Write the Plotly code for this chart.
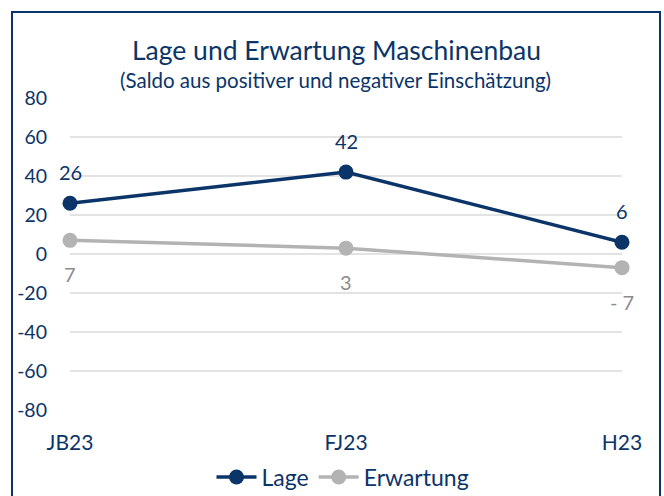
import plotly.graph_objects as go

categories = ["JB23", "FJ23", "H23"]
lage = [26, 42, 6]
erwartung = [7, 3, -7]
lage_labels = ["26", "42", "6"]
erwartung_labels = ["7", "3", "- 7"]
y_ticks = [80, 60, 40, 20, 0, -20, -40, -60, -80]
y_tick_text = ["80", "60", "40", "20", "0", "-20", "-40", "-60", "-80"]

DARK = "#0B3468"
GRAY = "#B3B3B3"
LABEL_GRAY = "#8C8C8C"
FONT = "Lato"

fig = go.Figure()
fig.add_trace(go.Scatter(
    x=categories, y=lage, name="Lage", mode="lines+markers",
    line=dict(color=DARK, width=3.5), marker=dict(color=DARK, size=15),
    cliponaxis=False))
fig.add_trace(go.Scatter(
    x=categories, y=erwartung, name="Erwartung", mode="lines+markers",
    line=dict(color=GRAY, width=3.5), marker=dict(color=GRAY, size=15),
    cliponaxis=False))

L, R, T, B = 70, 42, 98, 86
W, H = 664, 496
pw, ph = W - L - R, H - T - B

def px(x):
    return (x - L) / pw

def py(y):
    return (H - B - y) / ph

annotations = [
    dict(text="Lage und Erwartung Maschinenbau", xref="paper", yref="paper",
         x=px(336), y=py(50), xanchor="center", yanchor="middle", showarrow=False,
         font=dict(size=26.5, color=DARK, family=FONT)),
    dict(text="(Saldo aus positiver und negativer Einschätzung)", xref="paper", yref="paper",
         x=px(335), y=py(80), xanchor="center", yanchor="middle", showarrow=False,
         font=dict(size=20.5, color=DARK, family=FONT)),
]
for c, v, t in zip(categories, lage, lage_labels):
    annotations.append(dict(x=c, y=v, text=t, showarrow=False, yshift=31,
                            xanchor="center", yanchor="middle",
                            font=dict(size=20, color=DARK, family=FONT)))
for c, v, t in zip(categories, erwartung, erwartung_labels):
    annotations.append(dict(x=c, y=v, text=t, showarrow=False, yshift=-34,
                            xanchor="center", yanchor="middle",
                            font=dict(size=20, color=LABEL_GRAY, family=FONT)))

fig.update_layout(
    width=W, height=H, margin=dict(l=L, r=R, t=T, b=B, autoexpand=False),
    paper_bgcolor="white", plot_bgcolor="white",
    font=dict(family=FONT, color=DARK, size=19),
    showlegend=True,
    legend=dict(orientation="h", x=px(343), xanchor="center", y=py(477), yanchor="middle",
                font=dict(size=23, color=DARK), tracegroupgap=0, itemwidth=40),
    xaxis=dict(range=[0, 2], showgrid=False, zeroline=False, showline=False,
               ticks="", tickfont=dict(size=21, color=DARK), ticklabelstandoff=18),
    yaxis=dict(range=[-80, 80], tickvals=y_ticks, ticktext=y_tick_text,
               showgrid=True, gridcolor="#E3E3E3",
               gridwidth=1.5, zeroline=False, showline=False, ticks="",
               tickfont=dict(size=19.5, color=DARK), ticklabelstandoff=22),
    shapes=[dict(type="rect", xref="paper", yref="paper",
                 x0=px(12), x1=px(660), y0=py(505), y1=py(12),
                 line=dict(color=DARK, width=2), fillcolor="rgba(0,0,0,0)", layer="below")],
    annotations=annotations,
)

fig.write_html("out.html", config={"displayModeBar": False},
               post_script="document.body.style.margin='0';document.body.style.padding='0';")
